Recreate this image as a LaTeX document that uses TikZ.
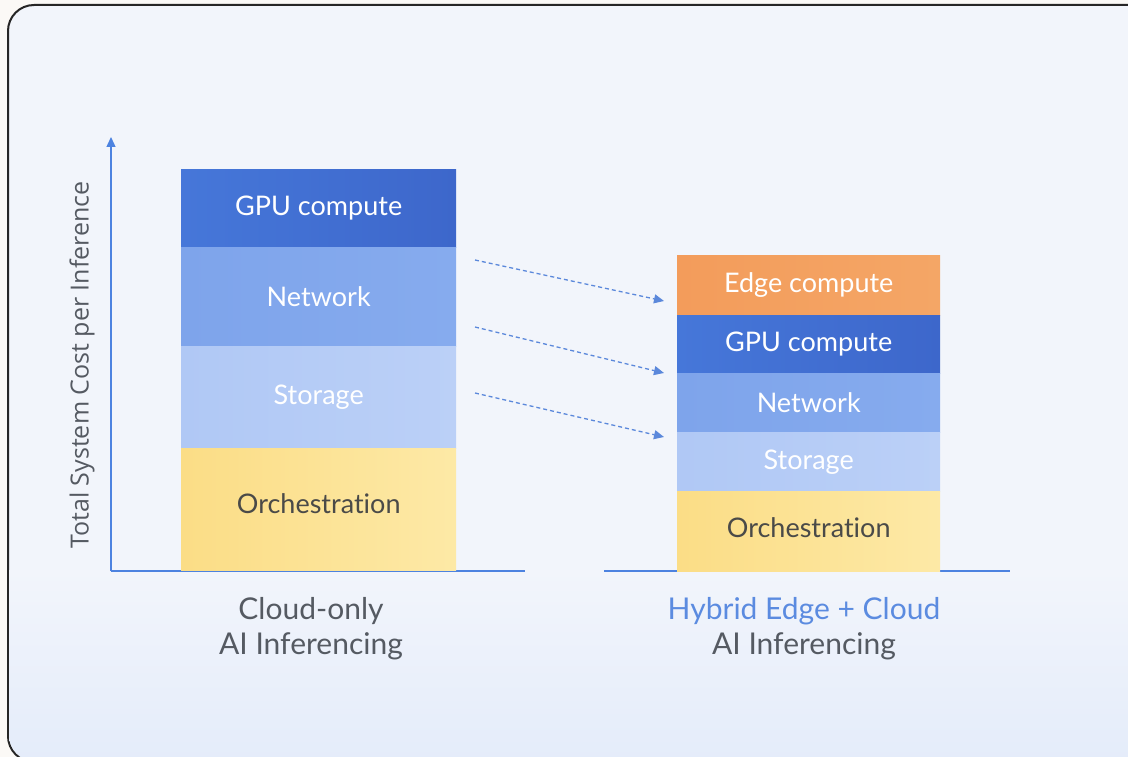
\documentclass[tikz,border=0pt]{standalone}
\usepackage{fontspec}
\setmainfont{Lato}[Ligatures={NoCommon}]
\newfontfamily\axisfont{Open Sans}
\usetikzlibrary{arrows.meta}
\definecolor{outerbg}{HTML}{FBF9F6}
\definecolor{panelbg}{HTML}{F2F5FB}
\definecolor{panelbot}{HTML}{E4ECFA}
\definecolor{axisblue}{HTML}{4D83E0}
\definecolor{arrblue}{HTML}{5B88DB}
\definecolor{gpuL}{HTML}{4677D9}
\definecolor{gpuR}{HTML}{3D67CB}
\definecolor{netL}{HTML}{7EA4EB}
\definecolor{netR}{HTML}{86ABEE}
\definecolor{stoL}{HTML}{B0C8F5}
\definecolor{stoR}{HTML}{BBD0F7}
\definecolor{orcL}{HTML}{FBDD86}
\definecolor{orcR}{HTML}{FDE9A6}
\definecolor{edgeL}{HTML}{F39C5B}
\definecolor{edgeR}{HTML}{F4A666}
\definecolor{txtgray}{HTML}{555A62}
\definecolor{orctxt}{HTML}{4A4A48}
\definecolor{hybblue}{HTML}{5B8BE0}
\tikzset{
  seg/.style={draw=none, minimum height=#1, inner sep=0pt, anchor=north west,
    font=\fontsize{27}{30}\selectfont, text=white},
  segL/.style={seg=#1, minimum width=275pt},
  segR/.style={seg=#1, minimum width=263pt},
  gpu/.style={left color=gpuL, right color=gpuR},
  net/.style={left color=netL, right color=netR},
  sto/.style={left color=stoL, right color=stoR},
  orc/.style={left color=orcL, right color=orcR, text=orctxt},
  edg/.style={left color=edgeL, right color=edgeR},
  axisline/.style={draw=axisblue, line width=1.3pt},
  mover/.style={draw=arrblue, line width=1.3pt, dash pattern=on 4pt off 3pt,
    -{Triangle[length=10pt,width=9pt]}},
  caption/.style={font=\fontsize{30}{34}\selectfont, text=txtgray, anchor=center},
}
\begin{document}
\begin{tikzpicture}[x=1pt,y=-1pt]
\useasboundingbox (0,0) rectangle (1128,757);
\fill[outerbg] (0,0) rectangle (1128,757);
% panel
\begin{scope}
\clip (0,0) rectangle (1128,757);
\path[fill=panelbg, draw=black!85, line width=2pt, rounded corners=26pt] (8,5) rectangle (1160,762);
\clip[rounded corners=26pt] (9,6) rectangle (1160,761);
\shade[top color=panelbg, bottom color=panelbot] (0,570) rectangle (1160,762);
\end{scope}
% axes
\coordinate (origin) at (111,571);
\coordinate (ytop) at (111,137);
\coordinate (xend) at (525,571);
\coordinate (r0) at (604,571);
\coordinate (r1) at (1010,571);
\draw[axisline, -{Triangle[length=10pt,width=9pt]}] (origin) -- (ytop);
\draw[axisline] (origin) -- (xend);
\draw[axisline] (r0) -- (r1);
\node[rotate=90, font=\axisfont\fontsize{25}{28}\selectfont, text=txtgray] (ylab) at (82,365) {Total System Cost per Inference};
% left stack
\node[segL=78pt, gpu] (lgpu) at (181,169) {GPU compute};
\node[segL=99pt, net] (lnet) at (181,247) {Network};
\node[segL=102pt, sto] (lsto) at (181,346) {Storage};
\node[segL=122pt, orc] (lorc) at (181,448) {\raisebox{11pt}{Orchestration}};
% right stack
\node[segR=60pt, edg] (redge) at (677,255) {Edge compute};
\node[segR=58pt, gpu] (rgpu) at (677,315) {GPU compute};
\node[segR=59pt, net] (rnet) at (677,373) {Network};
\node[segR=59pt, sto] (rsto) at (677,432) {Storage};
\node[segR=80pt, orc] (rorc) at (677,491) {\raisebox{7pt}{Orchestration}};
% migration arrows
\coordinate (a1s) at (475,260); \coordinate (a1e) at (664,301);
\coordinate (a2s) at (475,327); \coordinate (a2e) at (664,373);
\coordinate (a3s) at (475,393); \coordinate (a3e) at (664,437);
\draw[mover] (a1s) -- (a1e);
\draw[mover] (a2s) -- (a2e);
\draw[mover] (a3s) -- (a3e);
% captions
\node[caption] (c1a) at (311,611) {Cloud-only};
\node[caption] (c1b) at (311,646) {AI Inferencing};
\node[caption, text=hybblue] (c2a) at (804,611) {Hybrid Edge + Cloud};
\node[caption] (c2b) at (804,646) {AI Inferencing};
\end{tikzpicture}
\end{document}
